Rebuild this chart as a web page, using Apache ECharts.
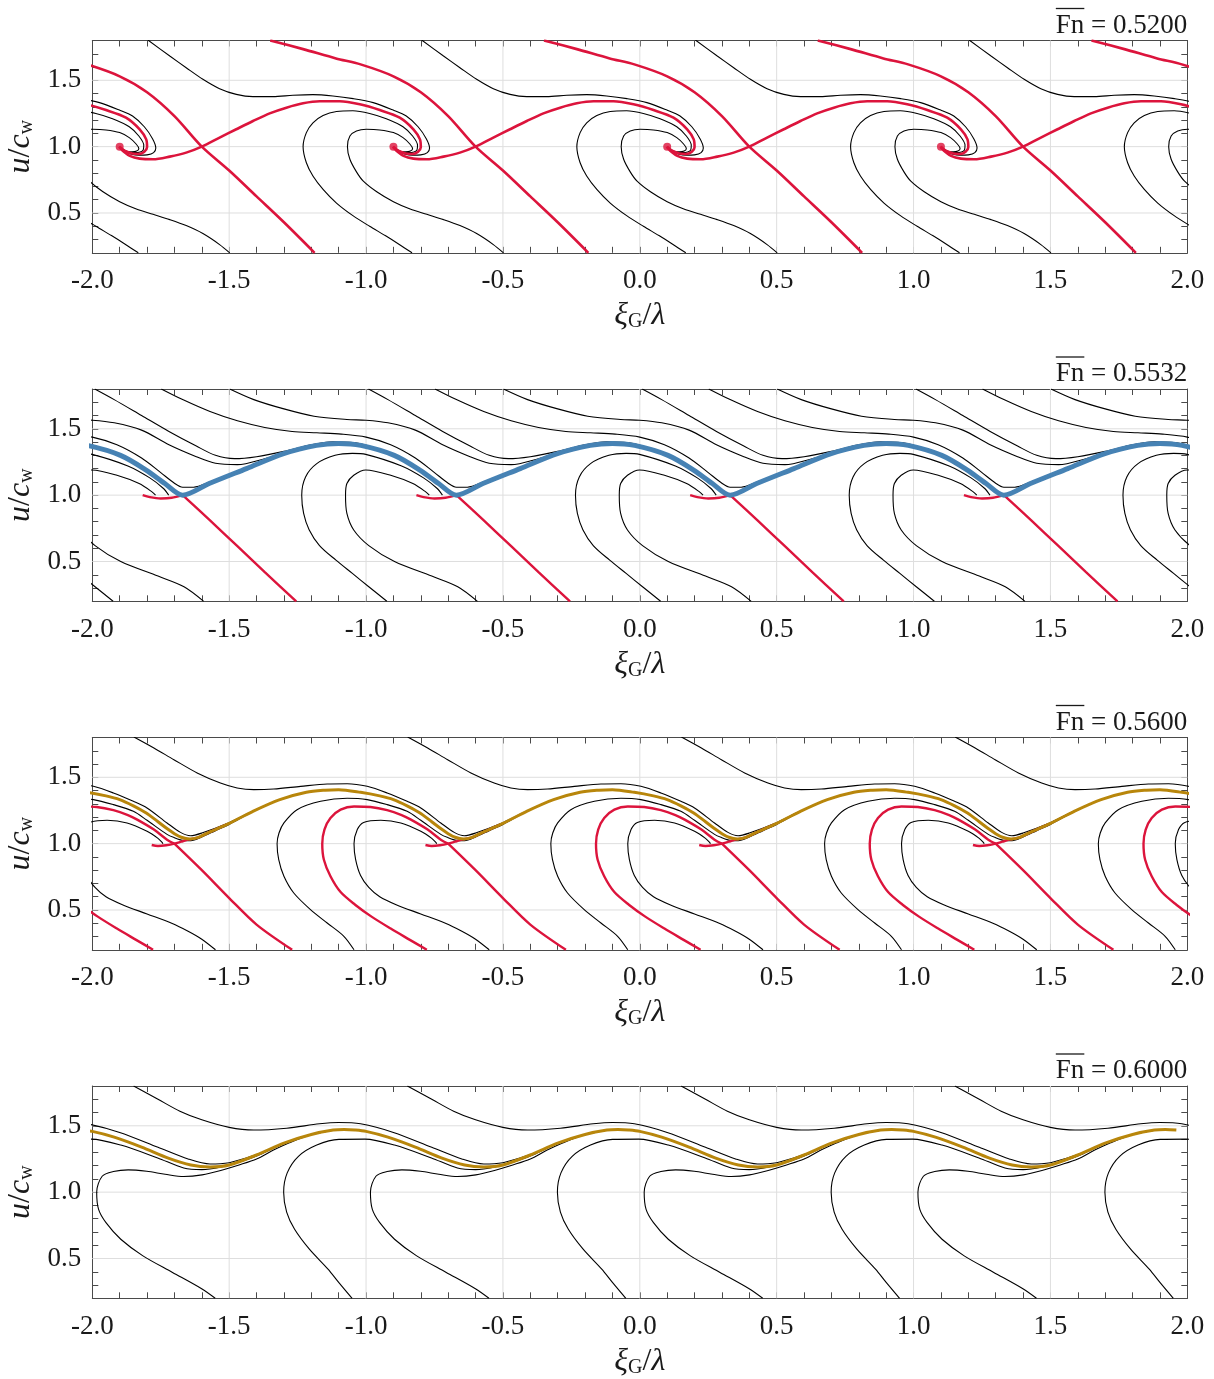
<!DOCTYPE html>
<html>
<head>
<meta charset="utf-8">
<script src="https://cdn.jsdelivr.net/npm/echarts/dist/echarts.min.js"></script>
<style>html,body{margin:0;padding:0;background:#fff}#c{width:1214px;height:1379px}</style>
</head>
<body>
<div id="c"></div>
<script>
// ---------------- data ----------------
const X_RANGE = [-2, 2];
const Y_RANGE = [0.2, 1.8];
const X_GRID = [-1.5, -1.0, -0.5, 0.0, 0.5, 1.0, 1.5];
const Y_GRID = [0.5, 1.0, 1.5];
const PERIOD = 1.0;                 // the portraits repeat every 1.0 in xi/lambda
const SHIFTS = [-3, -2, -1, 0, 1, 2, 3];
const FN_VALUES = ['0.5200', '0.5532', '0.5600', '0.6000'];

// Panel 1 (Fn = 0.5200) : one period (focus near 0.1, saddle near 0.4)
const P1_RED_STABLE = [[-0.35,1.80],[-0.23,1.735],[-0.11,1.665],[-0.02,1.62],[0.10,1.53],[0.20,1.41],[0.30,1.23],[0.40,1.0],[0.50,0.82],[0.60,0.625],[0.70,0.43],[0.812,0.2]];
const P1_RED_UNSTABLE = [[0.098,1.0],[0.104,0.985],[0.112,0.967],[0.137,0.93],[0.173,0.91],[0.222,0.905],[0.283,0.925],[0.343,0.955],[0.40,1.0],[0.465,1.068],[0.526,1.131],[0.587,1.193],[0.648,1.251],[0.709,1.294],[0.77,1.327],[0.831,1.342],[0.904,1.342],[0.977,1.319],[1.05,1.276],[1.123,1.219],[1.173,1.131],[1.197,1.055],[1.20,0.995],[1.19,0.962],[1.17,0.945],[1.145,0.948],[1.122,0.965],[1.108,0.985],[1.10,1.0]];
const P1_BLACK_TOP = [[-0.797,1.804],[-0.717,1.683],[-0.657,1.595],[-0.596,1.508],[-0.535,1.437],[-0.474,1.394],[-0.413,1.377],[-0.34,1.377],[-0.267,1.387],[-0.194,1.392],[-0.121,1.382],[-0.047,1.362],[0.026,1.332],[0.099,1.276],[0.147,1.231],[0.19,1.15],[0.22,1.06],[0.232,0.99],[0.224,0.955],[0.20,0.938],[0.17,0.935],[0.14,0.945],[0.118,0.965],[0.105,0.988]];
const P1_BLACK_OUTER = [[0.168,0.2],[0.12,0.265],[0.07,0.33],[0.013,0.40],[-0.048,0.48],[-0.108,0.575],[-0.157,0.678],[-0.194,0.779],[-0.218,0.879],[-0.23,1.0],[-0.218,1.106],[-0.194,1.18],[-0.157,1.235],[-0.108,1.265],[-0.048,1.27],[0.013,1.25],[0.074,1.21],[0.135,1.15],[0.17,1.08],[0.188,1.01],[0.186,0.975],[0.175,0.96],[0.155,0.956],[0.13,0.96],[0.112,0.977],[0.103,0.994]];
const P1_BLACK_INNER = [[0.502,0.2],[0.465,0.262],[0.404,0.345],[0.343,0.405],[0.283,0.45],[0.222,0.49],[0.161,0.53],[0.10,0.585],[0.039,0.66],[-0.01,0.74],[-0.035,0.81],[-0.059,0.905],[-0.068,1.0],[-0.059,1.08],[-0.035,1.118],[0.001,1.131],[0.05,1.126],[0.10,1.106],[0.135,1.068],[0.16,1.02],[0.17,0.985],[0.162,0.968],[0.145,0.962],[0.125,0.966],[0.11,0.982],[0.10,1.0]];
const P1_FOCI = [[0.1,1.0]];

// Panel 2 (Fn = 0.5532) : one period (saddle near 0.33)
const P2_BLUE = [[0.33,1.0],[0.427,1.0875],[0.563,1.2],[0.699,1.3125],[0.819,1.375],[0.90,1.39],[0.981,1.375],[1.103,1.3],[1.198,1.1875],[1.265,1.0875]];
const P2_RED_STABLE = [[0.33,1.0],[0.43,0.81],[0.53,0.615],[0.63,0.42],[0.745,0.2]];
const P2_RED_UNSTABLE = [[0.184,1.0],[0.21,0.985],[0.25,0.975],[0.29,0.98],[0.33,1.0]];
const P2_BLACK_OUTER = [[0.076,0.2],[0.01,0.31],[-0.05,0.41],[-0.11,0.51],[-0.17,0.62],[-0.208,0.74],[-0.228,0.8625],[-0.235,1.0],[-0.221,1.1375],[-0.18,1.2375],[-0.113,1.3],[-0.05,1.315],[-0.001,1.3075],[0.13,1.22],[0.21,1.13],[0.26,1.05],[0.279,1.0]];
const P2_BLACK_INNER = [[0.407,0.2],[0.335,0.31],[0.24,0.39],[0.104,0.5],[0.01,0.62],[-0.045,0.7375],[-0.07,0.8625],[-0.075,1.0],[-0.07,1.0875],[-0.045,1.15],[-0.001,1.19],[0.09,1.15],[0.171,1.0875],[0.218,1.025],[0.231,1.0]];
const P2_BLACK_TOP_A = [[0.009,1.8],[0.08,1.72],[0.18,1.60],[0.28,1.48],[0.38,1.37],[0.45,1.30],[0.52,1.275],[0.60,1.29],[0.70,1.33],[0.80,1.38],[0.88,1.402],[0.98,1.388],[1.08,1.318]];
const P2_BLACK_TOP_B = [[0.252,1.8],[0.33,1.72],[0.43,1.63],[0.53,1.56],[0.63,1.51],[0.73,1.48],[0.82,1.47],[0.91,1.46],[1.0,1.4375],[1.09,1.38],[1.18,1.28],[1.25,1.17],[1.30,1.09],[1.33,1.06],[1.37,1.06],[1.43,1.10],[1.53,1.18],[1.63,1.258],[1.73,1.325],[1.83,1.375]];
const P2_BLACK_TOP_C = [[0.502,1.8],[0.59,1.72],[0.70,1.65],[0.81,1.595],[0.93,1.57],[1.0,1.565],[1.08,1.545],[1.18,1.49],[1.28,1.38],[1.38,1.29],[1.45,1.24],[1.53,1.23],[1.63,1.275],[1.73,1.335],[1.83,1.38]];

// Panel 3 (Fn = 0.5600) : one period (saddle near 0.3)
const P3_GOLD = [[-0.10,1.407],[-0.02,1.387],[0.05,1.36],[0.10,1.332],[0.15,1.285],[0.197,1.231],[0.24,1.165],[0.27,1.118],[0.30,1.075],[0.325,1.048],[0.356,1.035],[0.385,1.045],[0.42,1.08],[0.49,1.143],[0.587,1.244],[0.685,1.332],[0.782,1.387],[0.85,1.403]];
const P3_RED_STABLE = [[0.30,1.0],[0.40,0.80],[0.50,0.59],[0.60,0.39],[0.73,0.2]];
const P3_RED_C = [[0.222,0.2],[0.16,0.275],[0.09,0.36],[0.02,0.45],[-0.04,0.54],[-0.093,0.635],[-0.13,0.754],[-0.154,0.879],[-0.16,1.0],[-0.152,1.106],[-0.13,1.193],[-0.093,1.256],[-0.044,1.28],[0.016,1.276],[0.077,1.252],[0.13,1.215],[0.164,1.181],[0.225,1.106],[0.273,1.03],[0.30,1.0]];
const P3_RED_UNSTABLE = [[0.217,0.99],[0.24,0.982],[0.27,0.988],[0.30,1.0],[0.325,1.015],[0.35,1.03],[0.385,1.045],[0.42,1.079],[0.49,1.143]];
const P3_BLACK_TOP = [[0.152,1.804],[0.225,1.721],[0.298,1.633],[0.383,1.533],[0.468,1.457],[0.529,1.42],[0.59,1.407],[0.663,1.412],[0.761,1.432],[0.858,1.45],[0.931,1.452],[1.004,1.432],[1.077,1.382],[1.15,1.319],[1.20,1.269],[1.273,1.156],[1.322,1.085],[1.359,1.06],[1.40,1.08],[1.49,1.15],[1.587,1.246],[1.685,1.333],[1.78,1.387]];
const P3_BLACK_OUTER = [[-0.044,0.2],[-0.081,0.302],[-0.142,0.402],[-0.203,0.503],[-0.264,0.628],[-0.30,0.754],[-0.319,0.879],[-0.325,1.0],[-0.318,1.08],[-0.30,1.156],[-0.252,1.256],[-0.166,1.319],[-0.069,1.342],[0.004,1.332],[0.077,1.294],[0.15,1.244],[0.20,1.176],[0.273,1.07],[0.30,1.045],[0.33,1.025],[0.36,1.022],[0.40,1.05],[0.45,1.098],[0.50,1.145],[0.587,1.242],[0.685,1.331],[0.78,1.386]];
const P3_BLACK_INNER = [[0.45,0.2],[0.40,0.28],[0.35,0.34],[0.29,0.40],[0.20,0.47],[0.11,0.54],[0.05,0.60],[0.01,0.67],[-0.02,0.76],[-0.038,0.88],[-0.044,1.0],[-0.032,1.106],[-0.009,1.16],[0.054,1.176],[0.127,1.156],[0.20,1.093],[0.24,1.04],[0.255,1.01],[0.258,1.0]];

// Panel 4 (Fn = 0.6000) : one period
const P4_GOLD = [[-2.0,1.458],[-1.92,1.415],[-1.82,1.34],[-1.72,1.255],[-1.64,1.205],[-1.57,1.19],[-1.50,1.205],[-1.40,1.28],[-1.30,1.37],[-1.20,1.435],[-1.12,1.468],[-1.08,1.472],[-1.04,1.468]];
const P4_BLACK_TOP = [[-1.849,1.8],[-1.76,1.70],[-1.68,1.61],[-1.60,1.545],[-1.50,1.488],[-1.41,1.468],[-1.29,1.482],[-1.17,1.515],[-1.10,1.525],[-1.02,1.515],[-0.90,1.45],[-0.76,1.338],[-0.65,1.25],[-0.57,1.212],[-0.50,1.222],[-0.43,1.262],[-0.38,1.298],[-0.30,1.37],[-0.20,1.435],[-0.12,1.468]];
const P4_BLACK_BIG = [[-1.051,0.2],[-1.10,0.32],[-1.139,0.42],[-1.207,0.57],[-1.261,0.72],[-1.29,0.85],[-1.301,1.0],[-1.288,1.145],[-1.247,1.27],[-1.18,1.355],[-1.099,1.398],[-1.004,1.40],[-0.896,1.355],[-0.761,1.258],[-0.666,1.182],[-0.60,1.17],[-0.53,1.19],[-0.45,1.235],[-0.38,1.29],[-0.30,1.368],[-0.20,1.434],[-0.12,1.467]];
const P4_BLACK_SMALL = [[-1.551,0.2],[-1.599,0.27],[-1.707,0.395],[-1.815,0.52],[-1.896,0.645],[-1.95,0.77],[-1.977,0.87],[-1.984,1.0],[-1.964,1.12],[-1.923,1.155],[-1.869,1.168],[-1.801,1.157],[-1.734,1.135],[-1.666,1.118],[-1.599,1.13],[-1.531,1.163],[-1.464,1.205],[-1.40,1.25],[-1.34,1.315],[-1.28,1.372],[-1.20,1.434],[-1.12,1.467]];

// ---------------- styling ----------------
const FONT = '"Liberation Serif", "DejaVu Serif", serif';
const TXT = '#1a1a1a';
const FRAME = '#4a4a4a';
const GRIDC = '#dedede';
const RED = '#DC143C', BLUE = '#4682B4', GOLD = '#B8860B', BLACK = '#000000';
const LEFT = 92.3, WIDTH = 1095, HEIGHT = 212.3;
const TOPS = [40.5, 389, 737.5, 1086];

const chart = echarts.init(document.getElementById('c'), null, {renderer: 'canvas'});

function fmt(v) {
  const r = Math.round(v * 2);
  return Math.abs(v * 2 - r) < 1e-6 ? (r / 2).toFixed(1) : '';
}
const richName = {
  i: {fontFamily: FONT, fontStyle: 'italic', fontSize: 32, color: TXT, verticalAlign: 'top', lineHeight: 32},
  n: {fontFamily: FONT, fontSize: 32, color: TXT, verticalAlign: 'top', lineHeight: 32},
  s: {fontFamily: FONT, fontSize: 20, color: TXT, verticalAlign: 'bottom', lineHeight: 20, padding: [14, 0, 0, 0]}
};

const grids = [], xAxes = [], yAxes = [], series = [], graphics = [];
function axisCommon(isLabel) {
  return {
    axisLine: {show: true, onZero: false, lineStyle: {color: FRAME, width: 1}},
    axisTick: {show: true, inside: true, length: 6, interval: 0, lineStyle: {color: FRAME, width: 1}},
    axisLabel: {show: isLabel, interval: 0, formatter: fmt, color: TXT, fontFamily: FONT, fontSize: 27},
    splitLine: {show: false}
  };
}
function shifted(arr, k) { return arr.map(p => [p[0] + k * PERIOD, p[1]]); }
function addCurve(p, arr, color, width, z) {
  SHIFTS.forEach(k => series.push({
    type: 'line', xAxisIndex: 2 * p, yAxisIndex: 2 * p, data: shifted(arr, k),
    showSymbol: false, symbol: 'none', smooth: 0.3, clip: true, silent: true, animation: false, z: z,
    lineStyle: {color: color, width: width}
  }));
}
function addPeriodic(p, arr, color, width, z) {
  let data = [];
  SHIFTS.forEach(k => { data = data.concat(shifted(arr, k)); });
  series.push({
    type: 'line', xAxisIndex: 2 * p, yAxisIndex: 2 * p, data: data,
    showSymbol: false, symbol: 'none', smooth: 0.3, clip: true, silent: true, animation: false, z: z,
    lineStyle: {color: color, width: width}
  });
}

const measure = document.createElement('canvas').getContext('2d');
const TITLE_FONT = '27px ' + FONT;
measure.font = TITLE_FONT;

for (let p = 0; p < 4; p++) {
  grids.push({left: LEFT, top: TOPS[p], width: WIDTH, height: HEIGHT, containLabel: false, outerBoundsMode: 'none'});
  xAxes.push(Object.assign({type: 'value', gridIndex: p, position: 'bottom', min: X_RANGE[0], max: X_RANGE[1], interval: 0.1,
    name: '{i|ξ}{s|G}{n|/}{i|λ}', nameLocation: 'middle', nameGap: 47,
    nameTextStyle: {fontFamily: FONT, fontSize: 32, color: TXT, rich: richName}}, axisCommon(true)));
  xAxes[xAxes.length - 1].axisLabel.margin = 15;
  xAxes.push(Object.assign({type: 'value', gridIndex: p, position: 'top', min: X_RANGE[0], max: X_RANGE[1], interval: 0.1}, axisCommon(false)));
  yAxes.push(Object.assign({type: 'value', gridIndex: p, position: 'left', min: Y_RANGE[0], max: Y_RANGE[1], interval: 0.1,
    name: '{i|u}{n|/}{i|c}{s|w}', nameLocation: 'middle', nameGap: 44, nameRotate: 90,
    nameTextStyle: {fontFamily: FONT, fontSize: 32, color: TXT, rich: richName}}, axisCommon(true)));
  yAxes[yAxes.length - 1].axisLabel.margin = 11;
  yAxes.push(Object.assign({type: 'value', gridIndex: p, position: 'right', min: Y_RANGE[0], max: Y_RANGE[1], interval: 0.1}, axisCommon(false)));

  // light grid lines at the labelled ticks
  X_GRID.forEach(v => series.push({type: 'line', xAxisIndex: 2 * p, yAxisIndex: 2 * p, data: [[v, Y_RANGE[0]], [v, Y_RANGE[1]]],
    showSymbol: false, symbol: 'none', silent: true, animation: false, z: 1, lineStyle: {color: GRIDC, width: 1}}));
  Y_GRID.forEach(v => series.push({type: 'line', xAxisIndex: 2 * p, yAxisIndex: 2 * p, data: [[X_RANGE[0], v], [X_RANGE[1], v]],
    showSymbol: false, symbol: 'none', silent: true, animation: false, z: 1, lineStyle: {color: GRIDC, width: 1}}));

  // title  "Fn(overlined) = value"
  const right = LEFT + WIDTH;
  const rest = ' = ' + FN_VALUES[p];
  const wRest = measure.measureText(rest).width;
  const wFn = measure.measureText('Fn').width;
  const yMid = TOPS[p] - 15;
  graphics.push({type: 'text', x: right, y: yMid, silent: true,
    style: {text: rest, font: TITLE_FONT, fill: TXT, textAlign: 'right', textVerticalAlign: 'middle'}});
  graphics.push({type: 'text', x: right - wRest, y: yMid, silent: true,
    style: {text: 'Fn', font: TITLE_FONT, fill: TXT, textAlign: 'right', textVerticalAlign: 'middle'}});
  graphics.push({type: 'line', silent: true,
    shape: {x1: right - wRest - wFn, y1: TOPS[p] - 32, x2: right - wRest, y2: TOPS[p] - 32},
    style: {stroke: TXT, lineWidth: 1.3}});
}

// Panel 1
addCurve(0, P1_BLACK_TOP, BLACK, 1.1, 3);
addCurve(0, P1_BLACK_OUTER, BLACK, 1.1, 3);
addCurve(0, P1_BLACK_INNER, BLACK, 1.1, 3);
addCurve(0, P1_RED_STABLE, RED, 2.6, 4);
addCurve(0, P1_RED_UNSTABLE, RED, 2.6, 4);
series.push({type: 'scatter', xAxisIndex: 0, yAxisIndex: 0, silent: true, animation: false, z: 5,
  data: [].concat(...SHIFTS.map(k => shifted(P1_FOCI, k))), symbol: 'circle', symbolSize: 8, itemStyle: {color: RED}});
// Panel 2
addCurve(1, P2_BLACK_TOP_A, BLACK, 1.1, 3);
addCurve(1, P2_BLACK_TOP_B, BLACK, 1.1, 3);
addCurve(1, P2_BLACK_TOP_C, BLACK, 1.1, 3);
addCurve(1, P2_BLACK_OUTER, BLACK, 1.1, 3);
addCurve(1, P2_BLACK_INNER, BLACK, 1.1, 3);
addCurve(1, P2_RED_STABLE, RED, 2.4, 4);
addCurve(1, P2_RED_UNSTABLE, RED, 2.4, 4);
addPeriodic(1, P2_BLUE, BLUE, 5, 5);
// Panel 3
addCurve(2, P3_BLACK_TOP, BLACK, 1.1, 3);
addCurve(2, P3_BLACK_OUTER, BLACK, 1.1, 3);
addCurve(2, P3_BLACK_INNER, BLACK, 1.1, 3);
addCurve(2, P3_RED_STABLE, RED, 2.4, 4);
addCurve(2, P3_RED_C, RED, 2.4, 4);
addCurve(2, P3_RED_UNSTABLE, RED, 2.4, 4);
addPeriodic(2, P3_GOLD, GOLD, 3, 5);
// Panel 4
addCurve(3, P4_BLACK_TOP, BLACK, 1.1, 3);
addCurve(3, P4_BLACK_BIG, BLACK, 1.1, 3);
addCurve(3, P4_BLACK_SMALL, BLACK, 1.1, 3);
addPeriodic(3, P4_GOLD, GOLD, 3, 5);

chart.setOption({
  animation: false,
  backgroundColor: '#ffffff',
  grid: grids, xAxis: xAxes, yAxis: yAxes, series: series, graphic: graphics
});
</script>
</body>
</html>
